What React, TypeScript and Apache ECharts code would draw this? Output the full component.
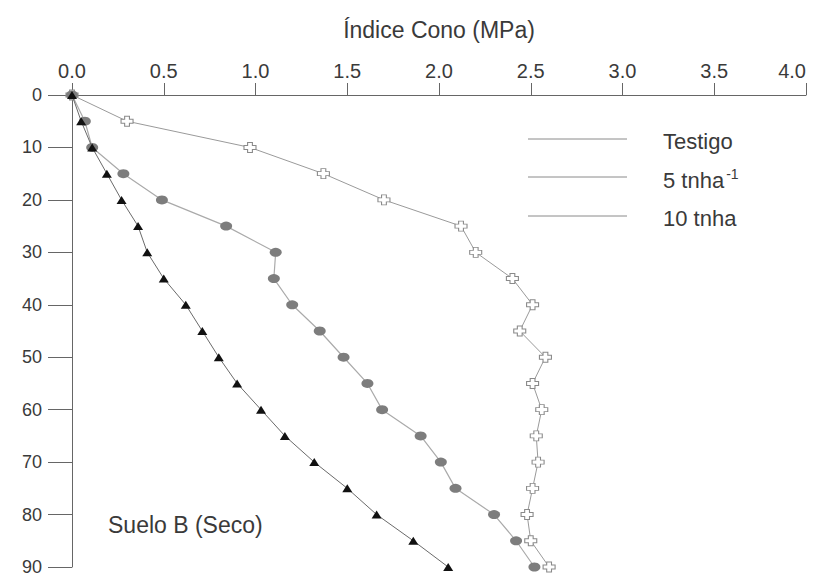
import React, { useEffect, useRef } from "react";
import * as echarts from "echarts";

const depths = [0, 5, 10, 15, 20, 25, 30, 35, 40, 45, 50, 55, 60, 65, 70, 75, 80, 85, 90];
const testigo = [0, 0.3, 0.97, 1.37, 1.7, 2.12, 2.2, 2.4, 2.51, 2.44, 2.58, 2.51, 2.56, 2.53, 2.54, 2.51, 2.48, 2.5, 2.6];
const cinco = [0, 0.07, 0.11, 0.28, 0.49, 0.84, 1.11, 1.1, 1.2, 1.35, 1.48, 1.61, 1.69, 1.9, 2.01, 2.09, 2.3, 2.42, 2.52];
const diez = [0, 0.05, 0.11, 0.19, 0.27, 0.36, 0.41, 0.5, 0.62, 0.71, 0.8, 0.9, 1.03, 1.16, 1.32, 1.5, 1.66, 1.86, 2.05];
const legendNames = ["Testigo", "5 tnha", "10 tnha"];
const xTicks = [0, 0.5, 1, 1.5, 2, 2.5, 3, 3.5, 4];

const FONT = "Liberation Sans, Arial, sans-serif";
const TXT = "#3a3a3a";

const pairs = (xs: number[]) => xs.map((v, i) => [v, depths[i]]);

export default function App() {
  const ref = useRef<HTMLDivElement>(null);
  useEffect(() => {
    if (!ref.current) return;
    const chart = echarts.init(ref.current, undefined, { renderer: "svg" });
    const legendY = [139, 177, 216];
    chart.setOption({
      animation: false,
      backgroundColor: "#ffffff",
      grid: { left: 72, right: 12, top: 95, bottom: 10, containLabel: false },
      xAxis: {
        type: "value",
        position: "top",
        min: xTicks[0],
        max: xTicks[xTicks.length - 1],
        interval: 0.5,
        name: "Índice Cono (MPa)",
        nameLocation: "middle",
        nameGap: 54,
        nameTextStyle: { fontSize: 23, color: TXT, fontFamily: FONT },
        axisLine: { show: true, lineStyle: { color: "#666", width: 1 } },
        axisTick: { show: true, length: 12, lineStyle: { color: "#666" } },
        axisLabel: {
          margin: 14,
          fontSize: 20,
          color: TXT,
          fontFamily: FONT,
          alignMaxLabel: "right",
          formatter: (v: number) => v.toFixed(1),
        },
        splitLine: { show: false },
      },
      yAxis: {
        type: "value",
        inverse: true,
        min: 0,
        max: 90,
        interval: 10,
        axisLine: { show: true, lineStyle: { color: "#666", width: 1 } },
        axisTick: { show: true, length: 24, lineStyle: { color: "#666" } },
        axisLabel: { margin: 30, fontSize: 18, color: TXT, fontFamily: FONT },
        splitLine: { show: false },
      },
      series: [
        {
          name: legendNames[0],
          type: "line",
          data: pairs(testigo),
          symbol: "path://M3,0 H7 V3 H10 V7 H7 V10 H3 V7 H0 V3 H3 Z",
          symbolSize: [12, 10],
          itemStyle: { color: "#ffffff", borderColor: "#8a8a8a", borderWidth: 1 },
          lineStyle: { color: "#9a9a9a", width: 1 },
          z: 2,
        },
        {
          name: legendNames[1],
          type: "line",
          data: pairs(cinco),
          symbol: "circle",
          symbolSize: [12, 9],
          itemStyle: { color: "#7d7d7d" },
          lineStyle: { color: "#aaaaaa", width: 1.2 },
          z: 3,
        },
        {
          name: legendNames[2],
          type: "line",
          data: pairs(diez),
          symbol: "triangle",
          symbolSize: [10, 8],
          itemStyle: { color: "#111111" },
          lineStyle: { color: "#6a6a6a", width: 1 },
          z: 4,
        },
      ],
      graphic: [
        ...legendY.map((y) => ({
          type: "line",
          shape: { x1: 528, y1: y, x2: 627, y2: y },
          style: { stroke: "#8a8a8a", lineWidth: 1 },
        })),
        {
          type: "text",
          x: 663,
          y: 141,
          style: { text: "Testigo", fontSize: 22, fill: TXT, fontFamily: FONT, verticalAlign: "middle" },
        },
        {
          type: "text",
          x: 663,
          y: 180,
          style: {
            text: "{a|5 tnha}{b|-1}",
            verticalAlign: "middle",
            rich: {
              a: { fontSize: 22, fill: TXT, fontFamily: FONT },
              b: { fontSize: 14, fill: TXT, fontFamily: FONT, padding: [0, 0, 13, 2] },
            },
          },
        },
        {
          type: "text",
          x: 663,
          y: 218,
          style: { text: "10 tnha", fontSize: 22, fill: TXT, fontFamily: FONT, verticalAlign: "middle" },
        },
        {
          type: "text",
          x: 108,
          y: 525,
          style: { text: "Suelo B (Seco)", fontSize: 23, fill: TXT, fontFamily: FONT, verticalAlign: "middle" },
        },
      ],
    });
    return () => chart.dispose();
  }, []);
  return (
    <div
      ref={ref}
      style={{ position: "fixed", left: 0, top: 0, width: 818, height: 577 }}
    />
  );
}
